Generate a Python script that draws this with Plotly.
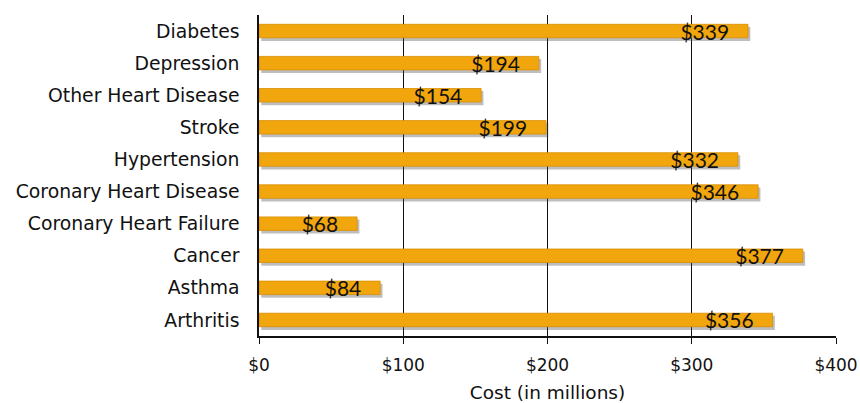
import plotly.graph_objects as go

categories = ["Diabetes", "Depression", "Other Heart Disease", "Stroke", "Hypertension",
              "Coronary Heart Disease", "Coronary Heart Failure", "Cancer", "Asthma", "Arthritis"]
costs = [339, 194, 154, 199, 332, 346, 68, 377, 84, 356]
labels = ["$" + str(v) for v in costs]
x_ticks = [0, 100, 200, 300, 400]
x_ticktext = ["$0", "$100", "$200", "$300", "$400"]

fig = go.Figure()

# soft shadow under each bar
fig.add_trace(go.Bar(
    y=categories, x=costs, orientation="h", base=1.6,
    width=0.44, offset=-0.13,
    marker=dict(color="rgba(70,70,70,0.35)", line=dict(width=0)),
    hoverinfo="skip", showlegend=False,
))
# main bar
fig.add_trace(go.Bar(
    y=categories, x=costs, orientation="h",
    width=0.42, offset=-0.21,
    marker=dict(color="#F2A60D", line=dict(color="#D98E00", width=0.8)),
    text=labels, texttemplate="%{text}\u2002\u00a0",
    textposition="inside", insidetextanchor="end",
    textfont=dict(family="Lato, Carlito, sans-serif", size=21, color="#111111"),
    constraintext="none", cliponaxis=False,
    showlegend=False,
))

fig.update_layout(
    width=860, height=403,
    margin=dict(l=258.5, r=23.5, t=15, b=67),
    paper_bgcolor="white", plot_bgcolor="white",
    barmode="overlay",
    xaxis=dict(
        range=[0, 400], tickvals=x_ticks, ticktext=x_ticktext,
        showgrid=True, gridcolor="#111111", gridwidth=1,
        showline=True, linecolor="#111111", linewidth=1.5,
        ticks="outside", ticklen=6, tickcolor="#111111",
        ticklabelstandoff=7, automargin=False,
        tickfont=dict(family="DejaVu Sans, sans-serif", size=17, color="#111111"),
        title=dict(text="Cost (in millions)", standoff=13,
                   font=dict(family="DejaVu Sans, sans-serif", size=18.5, color="#111111")),
        zeroline=False,
    ),
    yaxis=dict(
        categoryorder="array", categoryarray=categories, autorange="reversed",
        showline=True, linecolor="#111111", linewidth=1.5,
        ticks="", ticklabelstandoff=14, automargin=False,
        tickfont=dict(family="DejaVu Sans, sans-serif", size=18.8, color="#111111"),
        showgrid=False,
    ),
)

fig.write_html("out.html")
